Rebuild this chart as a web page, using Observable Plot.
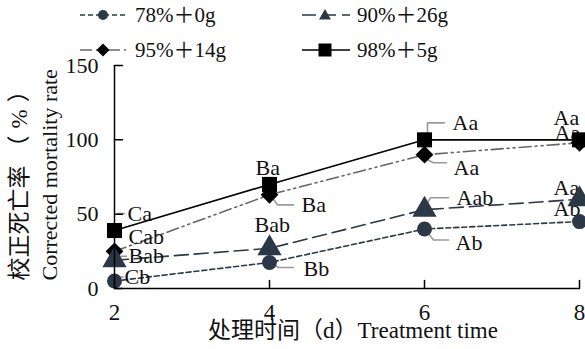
<!DOCTYPE html>
<html><head><meta charset="utf-8">
<script src="https://cdn.jsdelivr.net/npm/d3@7"></script>
<script src="https://cdn.jsdelivr.net/npm/@observablehq/plot@0.6"></script>
<style>
body{margin:0;background:#fff;}
#legend{position:relative;width:585px;height:56px;font-family:"Liberation Serif","Noto Sans CJK SC",serif;font-size:21px;color:#111;}
.sym{position:absolute;}
.lab{position:absolute;line-height:24px;white-space:nowrap;}
</style></head><body>
<div id="legend"></div><div id="chart"></div>
<script>
// ---- data ----
const days = [2, 4, 6, 8];
const seriesNames = ["78%＋0g", "90%＋26g", "95%＋14g", "98%＋5g"];
const rate78 = [5, 17.5, 40, 45];
const rate90 = [19, 27, 53, 60];
const rate95 = [25, 63, 90, 98];
const rate98 = [39, 70, 100, 100];
const letters78 = ["Cb", "Bb", "Ab", "Ab"];
const letters90 = ["Bab", "Bab", "Aab", "Aa"];
const letters95 = ["Cab", "Ba", "Aa", "Aa"];
const letters98 = ["Ca", "Ba", "Aa", "Aa"];
const yTicks = [0, 50, 100, 150];
const xTitle = "处理时间（d）Treatment time";
const yTitleCNMain = "校正死亡率";
const yTitleCNUnit = "（%）";
const yTitleEN = "Corrected mortality rate";

// ---- layout / styles ----
const W = 585, H = 293, ML = 114, MR = 6, MT = 9, MB = 61;
const FONT = "Liberation Serif, Noto Sans CJK SC, serif";
const pxX = (days[3] - days[0]) / (W - ML - MR);
const pxY = 150 / (H - MT - MB);
const styles = [
  {stroke: "#2c3846", dash: "5,3", symbol: "circle", d3sym: d3.symbolCircle, fill: "#2c3846", r: 7.5, lsize: 78},
  {stroke: "#2c3846", dash: "14,6", symbol: "triangle", d3sym: d3.symbolTriangle, fill: "#2c3846", r: 9, lsize: 62},
  {stroke: "#666666", dash: "12,4,2,4,2,4", symbol: "diamond2", d3sym: d3.symbolDiamond2, fill: "#000", r: 8, lsize: 108},
  {stroke: "#000000", dash: null, symbol: "square", d3sym: d3.symbolSquare, fill: "#000", r: 8.5, lsize: 169}
];
// label offsets in pixels [dx, dy] from the point (text starts there)
const labelOffsets = [
  [[10, -4], [34, 6], [31, 14], [-26, -13]],
  [[14, -4], [-15, -23], [32, -12], [-26, -11]],
  [[14, -14], [32, 10], [29, 13], [-25, -10]],
  [[13, -17], [-14, -16], [28, -17], [-26, -22]]
];
const leaderOffsets = [
  [[[3, -4], [9, -4]], [[2, 1], [9, 5], [24, 5]], [[1, 1], [9, 11], [24, 11]], null],
  [[[3, -4], [12, -4]], null, [[1, -3], [6, -12], [24, -12]], null],
  [null, [[2, 2], [8, 10], [24, 10]], [[3, 5], [9, 8], [22, 8]], null],
  [[[3, -17], [10, -17]], null, [[3, -5], [3, -17], [20, -17]], null]
];

const allRates = [rate78, rate90, rate95, rate98];
const allLetters = [letters78, letters90, letters95, letters98];

const series = seriesNames.map((name, i) =>
  days.map((d, j) => ({series: name, day: d, rate: allRates[i][j], letter: allLetters[i][j], i, j})));

const labels = series.flat().map(p => {
  const [ox, oy] = labelOffsets[p.i][p.j];
  return {text: p.letter, x: p.day + ox * pxX, y: p.rate - oy * pxY};
});
const leaders = [];
series.flat().forEach(p => {
  const L = leaderOffsets[p.i][p.j];
  if (!L) return;
  L.forEach(([ox, oy]) => leaders.push({id: p.i + "-" + p.j, x: p.day + ox * pxX, y: p.rate - oy * pxY}));
});

// ---- legend ----
const legendPos = [[78, 3], [300, 3], [78, 38], [300, 38]];
const legend = document.getElementById("legend");
seriesNames.forEach((name, i) => {
  const s = styles[i];
  const [lx, ly] = legendPos[i];
  const path = d3.symbol().type(s.d3sym).size(s.lsize)();
  const sym = document.createElement("div");
  sym.className = "sym";
  sym.style.left = lx + "px"; sym.style.top = ly + "px";
  sym.innerHTML = `<svg width="52" height="24"><line x1="2" x2="50" y1="12" y2="12" stroke="${s.stroke}" stroke-width="1.6" ${s.dash ? `stroke-dasharray="${s.dash}"` : ""}/><path d="${path}" transform="translate(25,${i === 1 ? 13 : 12})" fill="${s.fill}"/></svg>`;
  legend.appendChild(sym);
  const t = document.createElement("div");
  t.className = "lab";
  t.style.left = (lx + 57) + "px"; t.style.top = ly + "px";
  t.textContent = name;
  legend.appendChild(t);
});

// ---- chart ----
const tickShape = {draw(context, l) { context.moveTo(0, 0); context.lineTo(0, -l); }};
const marks = [];
series.forEach((data, i) => {
  const s = styles[i];
  marks.push(Plot.line(data, {x: "day", y: "rate", stroke: s.stroke, strokeWidth: 1.6, strokeDasharray: s.dash || undefined}));
});
marks.push(Plot.line(leaders, {x: "x", y: "y", z: "id", stroke: "#9a9a9a", strokeWidth: 1.6}));
marks.push(Plot.text(labels, {x: "x", y: "y", text: "text", textAnchor: "start", fontSize: 22, fontFamily: FONT, fill: "#111"}));
[3, 2, 1, 0].forEach(i => {
  const s = styles[i];
  marks.push(Plot.dot(series[i], {x: "day", y: "rate", symbol: s.symbol, r: s.r, fill: s.fill, stroke: "none"}));
});
// axes
marks.push(Plot.ruleX([days[0]], {y1: 0, y2: 150, stroke: "#000", strokeWidth: 1.5}));
marks.push(Plot.ruleY([0], {x1: days[0], x2: days[3], stroke: "#000", strokeWidth: 1.5}));
marks.push(Plot.vector(yTicks, {x: days[0], y: d => d, length: 8, rotate: 90, anchor: "start", shape: tickShape, stroke: "#000", strokeWidth: 1.5}));
marks.push(Plot.vector(days, {x: d => d, y: 0, length: 8, rotate: 0, anchor: "start", shape: tickShape, stroke: "#000", strokeWidth: 1.5}));
marks.push(Plot.axisY(yTicks, {tickSize: 0, tickPadding: 16, fontSize: 22, fontFamily: FONT, fill: "#111", label: null}));
marks.push(Plot.axisX(days, {tickSize: 0, tickPadding: 15, fontSize: 23, fontFamily: FONT, fill: "#111", label: null}));
marks.push(Plot.text([xTitle], {frameAnchor: "bottom", dx: 6, dy: 49, fontSize: 23, fontFamily: FONT, fill: "#111"}));
marks.push(Plot.text([yTitleCNMain + yTitleCNUnit], {frameAnchor: "bottom-left", dx: -88, dy: -8, rotate: -90, textAnchor: "start", fontSize: 23, fontFamily: FONT, fill: "#111"}));
marks.push(Plot.text([yTitleEN], {frameAnchor: "bottom-left", dx: -58, dy: -8, rotate: -90, textAnchor: "start", fontSize: 22, fontFamily: FONT, fill: "#111"}));

const chart = Plot.plot({
  width: W, height: H,
  marginLeft: ML, marginRight: MR, marginTop: MT, marginBottom: MB,
  x: {domain: [days[0], days[3]]},
  y: {domain: [0, 150]},
  style: {fontFamily: FONT, fontSize: "22px", overflow: "visible", background: "#fff", color: "#111"},
  marks
});
// widen the full-width unit parentheses of the Chinese y title
d3.select(chart).selectAll("text")
  .filter(function () { return this.textContent === yTitleCNMain + yTitleCNUnit; })
  .each(function () {
    const t = d3.select(this);
    t.text(null);
    t.append("tspan").text(yTitleCNMain);
    t.append("tspan").attr("dx", 7).attr("letter-spacing", "7px").text(yTitleCNUnit);
  });
document.getElementById("chart").appendChild(chart);
</script>
</body></html>
